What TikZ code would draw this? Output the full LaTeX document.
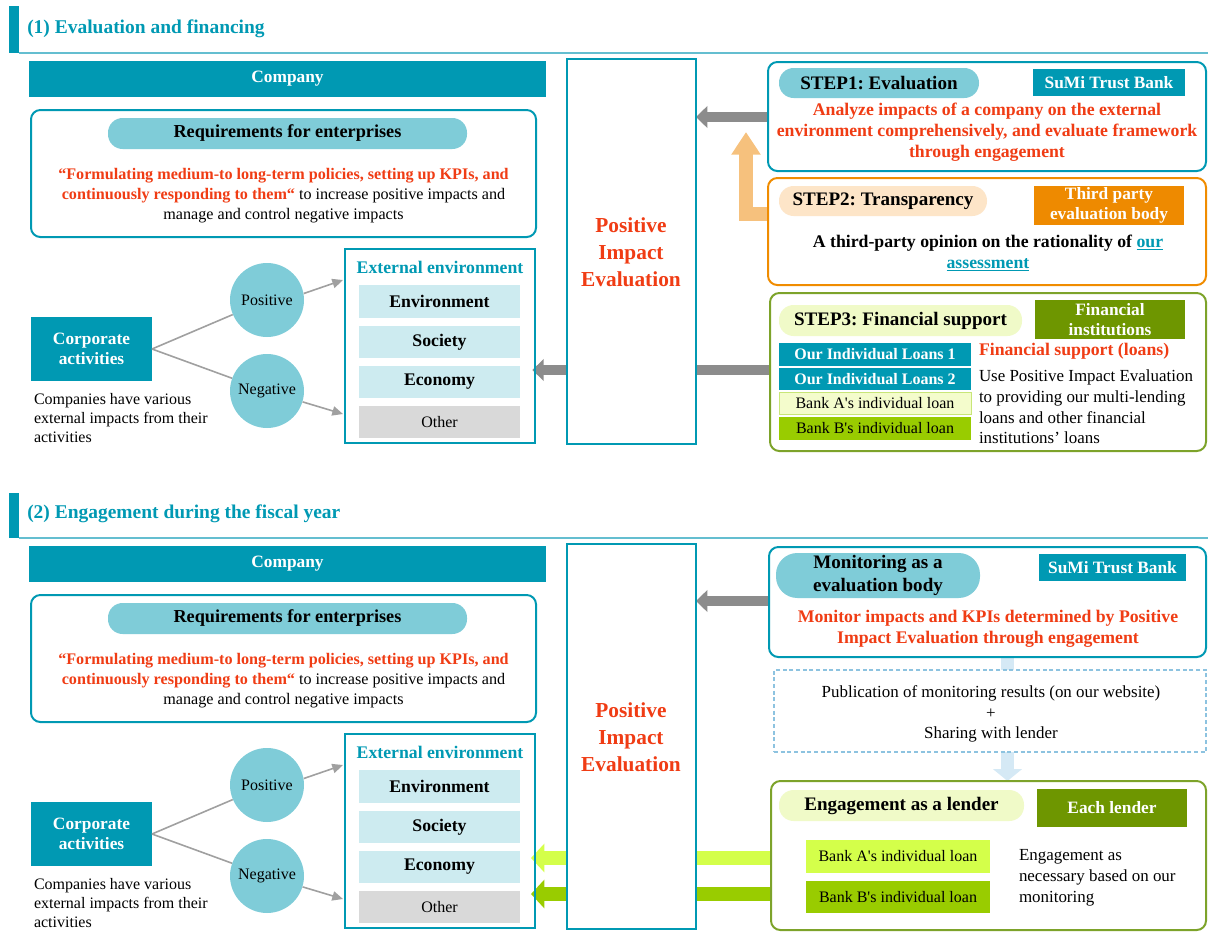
\documentclass[tikz,border=0pt]{standalone}
\usepackage{fontspec}
\setmainfont{Liberation Serif}
\newfontfamily\nomap[Ligatures=TeXOff]{Liberation Serif}
\usetikzlibrary{arrows.meta,calc}
\pgfdeclarelayer{background}
\pgfsetlayers{background,main}
\frenchspacing
\definecolor{teal1}{RGB}{0,153,179}
\definecolor{tealline}{RGB}{100,190,208}
\definecolor{teallt}{RGB}{127,204,216}
\definecolor{cyanlt}{RGB}{205,235,240}
\definecolor{grayo}{RGB}{217,217,217}
\definecolor{redt}{RGB}{240,60,20}
\definecolor{orng}{RGB}{240,140,0}
\definecolor{orngbox}{RGB}{238,138,0}
\definecolor{orngarr}{RGB}{246,193,125}
\definecolor{peach}{RGB}{253,229,200}
\definecolor{olive}{RGB}{110,150,0}
\definecolor{grnbd}{RGB}{125,163,42}
\definecolor{ygpill}{RGB}{240,250,200}
\definecolor{bankA}{RGB}{244,252,204}
\definecolor{bankAbd}{RGB}{200,230,120}
\definecolor{bankB}{RGB}{153,204,0}
\definecolor{bankAA}{RGB}{212,255,74}
\definecolor{ltblue}{RGB}{213,233,245}
\definecolor{dashbd}{RGB}{141,195,224}
\definecolor{arrgray}{RGB}{140,140,140}
\definecolor{linegray}{RGB}{160,160,160}
\newcommand\ap{{\nomap\char"27}}
\newcommand\fTitle{\fontsize{14.6}{17}\selectfont\bfseries}
\newcommand\fHead{\fontsize{14.3}{17}\selectfont\bfseries}
\newcommand\fPill{\fontsize{13.7}{16}\selectfont\bfseries}
\newcommand\fBold{\fontsize{13.3}{15.75}\selectfont\bfseries}
\newcommand\fTag{\fontsize{13}{15.5}\selectfont\bfseries}
\newcommand\fRow{\fontsize{13.3}{15}\selectfont\bfseries}
\newcommand\fLoan{\fontsize{12}{15}\selectfont\bfseries}
\newcommand\fReq{\fontsize{12.1}{15}\selectfont}
\newcommand\fBody{\fontsize{12}{14.25}\selectfont}
\newcommand\fReg{\fontsize{12.7}{15.5}\selectfont}
\newcommand\fRegB{\fontsize{12.7}{15.75}\selectfont}
\newcommand\fPie{\fontsize{16}{20.25}\selectfont\bfseries}
\tikzset{
  bx/.style={inner sep=0pt, outer sep=0pt, align=center},
  ab/.style args={#1/#2/#3/#4}{at={({(#1+#3)/2},{(#2+#4)/2})},
     minimum width={(#3-(#1))*0.75pt}, minimum height={(#4-(#2))*0.75pt}},
  rbox/.style={bx, rounded corners=7pt, line width=1.5pt, fill=white},
  pill/.style={bx, rounded corners=11pt, font=\fHead},
  tagbox/.style={bx, text=white, font=\fTag},
  row/.style={bx, fill=cyanlt, font=\fRow},
  circ/.style={circle, fill=teallt, minimum size=55.5pt, inner sep=0pt, font=\fBody},
  ln/.style={draw=linegray, line width=1.2pt},
  tarr/.style={draw=linegray, line width=1.2pt, -{Triangle[length=8pt,width=7pt]}},
  garr/.style={draw=arrgray, line width=7.5pt, -{Triangle[length=8.5pt,width=16pt]}},
  warr/.style={line width=10pt, -{Triangle[length=10pt,width=21pt]}},
  hline/.style={draw=tealline, line width=1pt},
  sectitle/.style={anchor=west, inner sep=0pt, text=teal1, font=\fTitle},
}
\newcommand\leftpart[2]{%
\begin{scope}[name prefix=#2]
  \node[bx, fill=teal1, text=white, font=\fTag, ab=29/61+#1/546/97+#1] (co) {Company};
  \node[rbox, draw=teal1, ab=31/110+#1/536/237+#1] (req) {};
  \node[pill, fill=teallt, font=\fPill, ab=108/118+#1/467/149+#1] (reqp) {Requirements for enterprises};
  \node[bx, font=\fReq] (reqt) at (283.5,{196+#1}) {\textcolor{redt}{\bfseries “Formulating medium-to long-term policies, setting up KPIs, and}\\\textcolor{redt}{\bfseries continuously responding to them“} to increase positive impacts and\\manage and control negative impacts};
  \node[bx, fill=teal1, text=white, font=\fTag, ab=31/317+#1/152/381+#1] (ca) {Corporate\\activities};
  \node[bx, anchor=north west, align=left, font=\fBody] (cat) at (34,{393+#1}) {Companies have various\\external impacts from their\\activities};
  \node[circ] (pos) at (267,{300+#1}) {Positive};
  \node[circ] (neg) at (267,{391+#1}) {Negative};
  \node[bx, draw=teal1, line width=1.5pt, ab=345/249+#1/535/443+#1] (ext) {};
  \node[bx, text=teal1, font=\fBold] (extt) at (440,{267+#1}) {External environment};
  \node[row, ab=359/285+#1/520/318+#1] (r1) {Environment};
  \node[row, ab=359/326+#1/520/358+#1] (r2) {Society};
  \node[row, ab=359/366+#1/520/398+#1] (r3) {Economy};
  \node[row, fill=grayo, font=\fBody, ab=359/406+#1/520/438+#1] (r4) {Other};
  \node[bx, draw=teal1, line width=1pt, fill=white, ab=567/59+#1/696/444+#1] (pie) {};
  \node[bx, text=redt, font=\fPie] (piet) at (631,{252+#1}) {Positive\\Impact\\Evaluation};
  \draw[ln] (ca.east) -- (pos);
  \draw[ln] (ca.east) -- (neg);
  \draw[tarr] (pos.10) -- ([xshift=-1.5pt,yshift=-23.25pt]ext.north west);
  \draw[tarr] (neg.-17) -- ([xshift=-1.5pt,yshift=21.75pt]ext.south west);
\end{scope}}
\begin{document}
\begin{tikzpicture}[x=0.75pt,y=-0.75pt]
\useasboundingbox (0,0) rectangle (1208,932);
% ---------- section 1 ----------
\node[bx, fill=teal1, ab=9/6/19/53] (h1bar) {};
\coordinate (h1end) at (1208,53);
\draw[hline] (h1bar.south east) -- (h1end);
\node[sectitle] (h1) at (27,29) {(1) Evaluation and financing};
\leftpart{0}{a-}
% STEP1
\node[rbox, draw=teal1, ab=768/62/1206/171] (s1) {};
\node[pill, fill=teallt, ab=779/68/979/98] (s1p) {STEP1: Evaluation};
\node[tagbox, fill=teal1, ab=1033/69/1185/96] (s1b) {SuMi Trust Bank};
\node[bx, text=redt, font=\fBold] (s1t) at (987,132) {Analyze impacts of a company on the external\\environment comprehensively, and evaluate framework\\through engagement};
% STEP2
\node[rbox, draw=orng, ab=768/178/1206/285] (s2) {};
\node[pill, fill=peach, ab=779/186/987/216] (s2p) {STEP2: Transparency};
\node[tagbox, fill=orngbox, ab=1034/186/1184/225] (s2b) {Third party\\evaluation body};
\node[bx, font=\fBold] (s2t) at (988,253) {A third-party opinion on the rationality of \textcolor{teal1}{\underline{our}}\\\textcolor{teal1}{\underline{assessment}}};
% STEP3
\node[rbox, draw=grnbd, ab=770/293/1206/451] (s3) {};
\node[pill, fill=ygpill, ab=779/305/1022/336] (s3p) {STEP3: Financial support};
\node[tagbox, fill=olive, ab=1035/300/1185/339] (s3b) {Financial\\institutions};
\node[bx, fill=teal1, text=white, font=\fLoan, ab=779/343/971/366] (l1) {Our Individual Loans 1};
\node[bx, fill=teal1, text=white, font=\fLoan, ab=779/368/971/390] (l2) {Our Individual Loans 2};
\node[bx, fill=bankA, draw=bankAbd, font=\fBody, ab=779/392/971/414] (l3) {Bank A\ap s individual loan};
\node[bx, fill=bankB, font=\fBody, ab=779/417/971/440] (l4) {Bank B\ap s individual loan};
\node[bx, anchor=west, text=redt, font=\fBold] (s3r) at (979,351) {Financial support (loans)};
\node[bx, anchor=north west, align=left, font=\fReg] (s3t) at (979,370) {Use Positive Impact Evaluation\\to providing our multi-lending\\loans and other financial\\institutions’ loans};
% ---------- section 2 ----------
\node[bx, fill=teal1, ab=9/493/19/538] (h2bar) {};
\coordinate (h2end) at (1208,538);
\draw[hline] (h2bar.south east) -- (h2end);
\node[sectitle] (h2) at (27,514) {(2) Engagement during the fiscal year};
\leftpart{485}{b-}
\node[rbox, draw=teal1, ab=769/547/1206/657] (m1) {};
\node[pill, rounded corners=16pt, fill=teallt, ab=776/553/980/598] (m1p) {Monitoring as a\\evaluation body};
\node[tagbox, fill=teal1, ab=1039/554/1186/581] (m1b) {SuMi Trust Bank};
\node[bx, text=redt, font=\fBold] (m1t) at (988,629) {Monitor impacts and KPIs determined by Positive\\Impact Evaluation through engagement};
\node[bx, draw=dashbd, dash pattern=on 3pt off 2pt, line width=0.9pt, fill=white, ab=774/670/1206/752] (pub) {};
\node[bx, font=\fReg] (pubt) at (991,714) {Publication of monitoring results (on our website)\\+\\Sharing with lender};
\node[rbox, draw=grnbd, ab=771/781/1206/930] (eng) {};
\node[pill, fill=ygpill, ab=779/790/1024/821] (engp) {Engagement as a lender};
\node[tagbox, fill=olive, ab=1037/789/1187/827] (engb) {Each lender};
\node[bx, fill=bankAA, font=\fBody, ab=806/840/990/873] (ba) {Bank A\ap s individual loan};
\node[bx, fill=bankB, font=\fBody, ab=806/881/990/913] (bb) {Bank B\ap s individual loan};
\node[bx, anchor=north west, align=left, font=\fRegB] (engt) at (1019,849) {Engagement as\\necessary based on our\\monitoring};
% ---------- connectors (behind) ----------
\coordinate (y1) at (0,117);
\coordinate (y3) at (0,370);
\coordinate (o2) at (0,214);
\coordinate (ou) at (746,132);
\coordinate (ym) at (0,601);
\coordinate (lb) at (1007.5,657);
\coordinate (ya) at (0,858);
\coordinate (yb) at (0,894);
\begin{pgfonlayer}{background}
  \draw[garr] (s1.west |- y1) -- (a-pie.east |- y1);
  \draw[garr] (s3.west |- y3) -- ([xshift=-2pt]a-ext.east |- y3);
  \draw[draw=orngarr, line width=10pt, line join=miter, -{Triangle[length=17pt,width=21pt]}] (s2.west |- o2) -| (ou);
  \draw[garr] (m1.west |- ym) -- (b-pie.east |- ym);
  \draw[draw=ltblue, line width=10pt, -{Triangle[length=9pt,width=21.5pt]}] (lb) -- (lb |- eng.north);
  \draw[warr, draw=bankAA] (ba.west |- ya) -- ([xshift=-3pt]b-ext.east |- ya);
  \draw[warr, draw=bankB] (bb.west |- yb) -- ([xshift=-3pt]b-ext.east |- yb);
\end{pgfonlayer}
\end{tikzpicture}
\end{document}
